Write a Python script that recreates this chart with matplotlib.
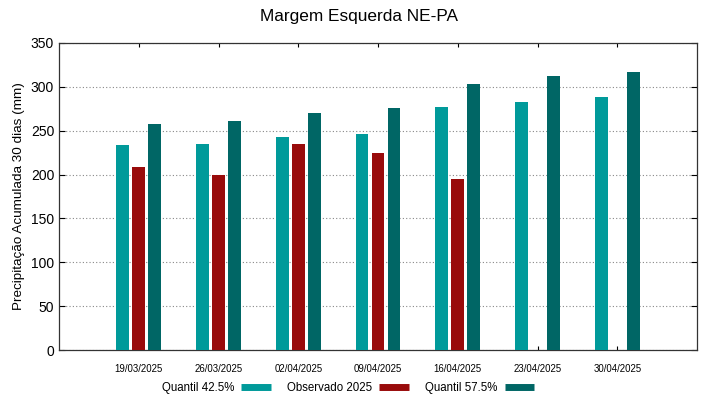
import matplotlib
matplotlib.use("Agg")
import matplotlib.pyplot as plt
import numpy as np
from matplotlib.lines import Line2D

plt.rcParams['font.family'] = ['Liberation Sans', 'DejaVu Sans']

dates = ["19/03/2025", "26/03/2025", "02/04/2025", "09/04/2025",
         "16/04/2025", "23/04/2025", "30/04/2025"]
q425 = [234, 235, 243, 246, 277, 283, 288]
obs2025 = [209, 199, 235, 225, 195, np.nan, np.nan]
q575 = [258, 261, 270, 276, 303, 312, 317]

c_q425 = '#009a9a'
c_obs = '#990b0b'
c_q575 = '#006665'

fig = plt.figure(figsize=(7.19, 3.99), dpi=100)
ax = fig.add_axes([59/719, 1 - 350/399, (697-59)/719, (350-43)/399])

x = np.arange(1, len(dates) + 1)
w = 0.16
ax.bar(x - 0.2, q425, w, color=c_q425, zorder=3)
ax.bar(x, obs2025, w, color=c_obs, zorder=3)
ax.bar(x + 0.2, q575, w, color=c_q575, zorder=3)

ax.set_xlim(0, 8)
ax.set_ylim(0, 350)
ax.set_yticks(np.arange(0, 351, 50))
ax.set_xticks(x)
ax.set_xticklabels(dates, fontsize=6.9)
ax.tick_params(axis='y', direction='in', right=True, length=4, labelsize=10, width=0.8)
ax.tick_params(axis='x', direction='in', top=True, length=3, width=0.8, pad=10)
ax.yaxis.grid(True, linestyle=(0, (1, 2)), color='#888888', linewidth=0.8, zorder=0)
for s in ax.spines.values():
    s.set_linewidth(0.9)
    s.set_color('#333333')

ax.set_ylabel("Precipitação Acumulada 30 dias (mm)", fontsize=9.7)
fig.text(0.5, 1 - 16/399, "Margem Esquerda NE-PA", ha='center', va='center', fontsize=12.4)

handles = [Line2D([0], [0], color=c, lw=5, solid_capstyle='butt') for c in (c_q425, c_obs, c_q575)]
labels = ["Quantil 42.5%", "Observado 2025", "Quantil 57.5%"]
fig.legend(handles, labels, loc='center', bbox_to_anchor=(348/719, 1 - 388/399), ncol=3,
           frameon=False, markerfirst=False, fontsize=8.3, handlelength=2.55,
           columnspacing=1.45, handletextpad=0.6)

fig.savefig("out.png", dpi=100)
